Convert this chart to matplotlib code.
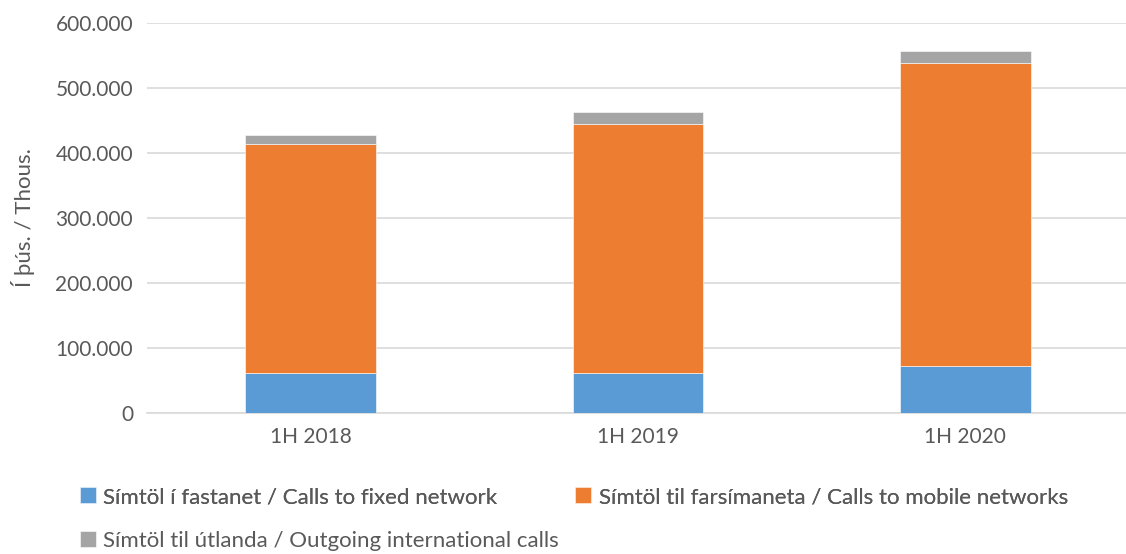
import matplotlib as mpl
mpl.use('Agg')
import matplotlib.pyplot as plt
import matplotlib.ticker as mtick
import numpy as np

mpl.rcParams['font.family'] = ['Lato', 'DejaVu Sans']
mpl.rcParams['font.size'] = 15

# data (thousands)
periods = ['1H 2018', '1H 2019', '1H 2020']
fixed = [62000, 62000, 72000]
mobile = [352000, 382000, 466000]
intl = [14000, 19000, 19000]
series_names = ['Símtöl í fastanet / Calls to fixed network',
                'Símtöl til farsímaneta / Calls to mobile networks',
                'Símtöl til útlanda / Outgoing international calls']
colors = ['#5B9BD5', '#ED7D31', '#A5A5A5']
textcolor = '#595959'

fig = plt.figure(figsize=(11.26, 5.54), dpi=100)
ax = fig.add_axes([147 / 1126, 1 - 413 / 554, 982 / 1126, 390 / 554])

x = np.arange(len(periods))
bottom = np.zeros(len(periods))
handles = []
for vals, col, name in zip([fixed, mobile, intl], colors, series_names):
    h = ax.bar(x, vals, width=0.40, bottom=bottom, color=col, edgecolor='white',
               linewidth=0.4, label=name, zorder=3)
    handles.append(h)
    bottom += np.array(vals)

ax.set_xlim(-0.5, 2.5)
ax.set_ylim(0, 600000)
ax.set_yticks(np.arange(0, 600001, 100000))
ax.yaxis.set_major_formatter(mtick.FuncFormatter(
    lambda v, p: '0' if v == 0 else '{:,.0f}'.format(v).replace(',', '.')))
ax.set_xticks(x)
ax.set_xticklabels(periods)

ax.grid(axis='y', color='#D9D9D9', linewidth=1.2, zorder=0)
for s in ['top', 'right', 'left']:
    ax.spines[s].set_visible(False)
ax.spines['bottom'].set_color('#D9D9D9')
ax.spines['bottom'].set_linewidth(1.2)
ax.tick_params(axis='both', length=0, colors=textcolor, labelsize=15)
ax.tick_params(axis='y', pad=10)
ax.tick_params(axis='x', pad=10)

ax.set_ylabel('Í þús. / Thous.', color=textcolor, fontsize=16)
ax.yaxis.set_label_coords(-0.114, 0.5)

# legend: two rows like the original (row 1 = two entries, row 2 = one)
leg_kw = dict(frameon=False, fontsize=16, labelcolor=textcolor,
              handlelength=0.7, handleheight=0.7, handletextpad=0.35,
              borderpad=0, borderaxespad=0)
leg1 = fig.legend(handles[:2], series_names[:2], loc='center left',
                  bbox_to_anchor=(80 / 1126, 1 - 497 / 554), ncol=2,
                  columnspacing=3.5, **leg_kw)
fig.add_artist(leg1)
fig.legend(handles[2:], series_names[2:], loc='center left',
           bbox_to_anchor=(80 / 1126, 1 - 541 / 554), **leg_kw)

fig.savefig('out.png', dpi=100)
